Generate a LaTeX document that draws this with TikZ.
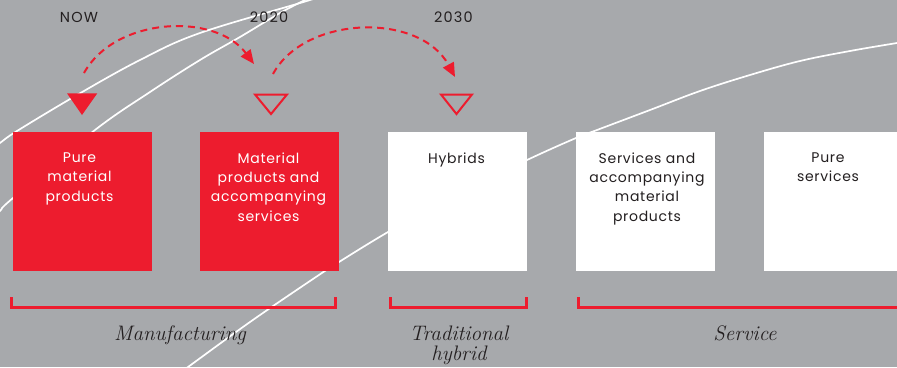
\documentclass[tikz,border=0pt]{standalone}
\usepackage{fontspec}
\newfontfamily\gsans{Poppins}
\usetikzlibrary{arrows.meta}
\definecolor{bggray}{HTML}{A7A9AC}
\definecolor{brandred}{HTML}{ED1C2E}
\definecolor{ink}{HTML}{231F20}
\begin{document}
\begin{tikzpicture}[x=1pt,y=-1pt,
  bgline/.style={white, line width=1.7pt},
  redbox/.style={fill=brandred, draw=none, minimum width=139pt, minimum height=139pt, inner sep=0pt},
  whitebox/.style={fill=white, draw=none, minimum width=139pt, minimum height=139pt, inner sep=0pt},
  boxtext/.style={anchor=north, inner sep=0pt, align=center, font=\gsans\fontsize{14}{19.3}\selectfont\addfontfeature{LetterSpace=5}},
  yeartext/.style={anchor=base, inner sep=0pt, text=ink, font=\gsans\fontsize{14.5}{16}\selectfont\addfontfeature{LetterSpace=8}},
  jump/.style={brandred, line width=2pt, dash pattern=on 7pt off 5pt, -{Triangle[length=14pt,width=12pt]}},
  bracket/.style={brandred, line width=3pt},
  sector/.style={anchor=base, inner sep=0pt, align=center, text=ink, font=\fontsize{21}{20}\selectfont\itshape\addfontfeature{LetterSpace=15,FakeBold=0.4}},
  marker/.style={brandred, line width=2pt, line join=miter},
]
\useasboundingbox (0,0) rectangle (897,367);
\fill[bggray] (0,0) rectangle (897,367);
\begin{scope}
\clip (0,0) rectangle (897,367);
\draw[bgline] plot[smooth, tension=0.6] coordinates {(-10,150) (0,143) (17,131) (77,95) (140,60) (200,33) (310,0) (330,-8)};
\draw[bgline] plot[smooth, tension=0.6] coordinates {(-10,221) (0,211) (13,198) (95,130) (150,92) (200,60) (240,37) (280,13) (305,0) (320,-8)};
\draw[bgline] plot[smooth, tension=0.6] coordinates {(170,380) (188,367) (250,322) (310,281) (339,262) (388,232) (450,197) (527,160) (576,138) (597,130) (650,110) (700,91) (750,75) (800,61) (850,51) (897,43) (910,41)};
\end{scope}

% year labels
\node[yeartext] (now) at (79,22) {NOW};
\node[yeartext] (y2020) at (269,22) {2020};
\node[yeartext] (y2030) at (453.5,22) {2030};

% markers
\fill[brandred] (67,93.3) -- (97.3,93.3) -- (82,115) -- cycle;
\draw[marker] (255,94.5) -- (287,94.5) -- (271,114) -- cycle;
\draw[marker] (441,94.5) -- (472,94.5) -- (456.5,114) -- cycle;

% dashed jumps
\coordinate (j1s) at (84,73);
\coordinate (j1e) at (254,64);
\coordinate (j2s) at (273,74);
\coordinate (j2e) at (455,77);
\draw[jump] (j1s) .. controls (115,17) and (215,12) .. (j1e);
\draw[jump] (j2s) .. controls (305,15) and (420,12) .. (j2e);

% boxes
\node[redbox] (b1) at (82.5,201.5) {};
\node[redbox] (b2) at (269.5,201.5) {};
\node[whitebox] (b3) at (457.5,201.5) {};
\node[whitebox] (b4) at (645.5,201.5) {};
\node[whitebox] (b5) at (833.5,201.5) {};

\node[boxtext, text=white] (t1) at (79.5,152.5) {Pure\\material\\products};
\node[boxtext, text=white] (t2) at (268.5,152.5) {Material\\products and\\accompanying\\services};
\node[boxtext, text=ink] (t3) at (456.5,152.5) {Hybrids};
\node[boxtext, text=ink] (t4) at (647,152.5) {Services and\\accompanying\\material\\products};
\node[boxtext, text=ink] (t5) at (828,152.5) {Pure\\services};

% brackets
\draw[bracket] (11,297) -- (11,307.5) -- (335,307.5) -- (335,297);
\draw[bracket] (390,297) -- (390,307.5) -- (526.5,307.5) -- (526.5,297);
\draw[bracket] (578,297) -- (578,307.5) -- (905,307.5);

\node[sector] (s1) at (180,340) {Manufacturing};
\node[sector] (s2) at (459,360) {Traditional\\hybrid};
\node[sector] (s3) at (745,340) {Service};
\end{tikzpicture}
\end{document}
